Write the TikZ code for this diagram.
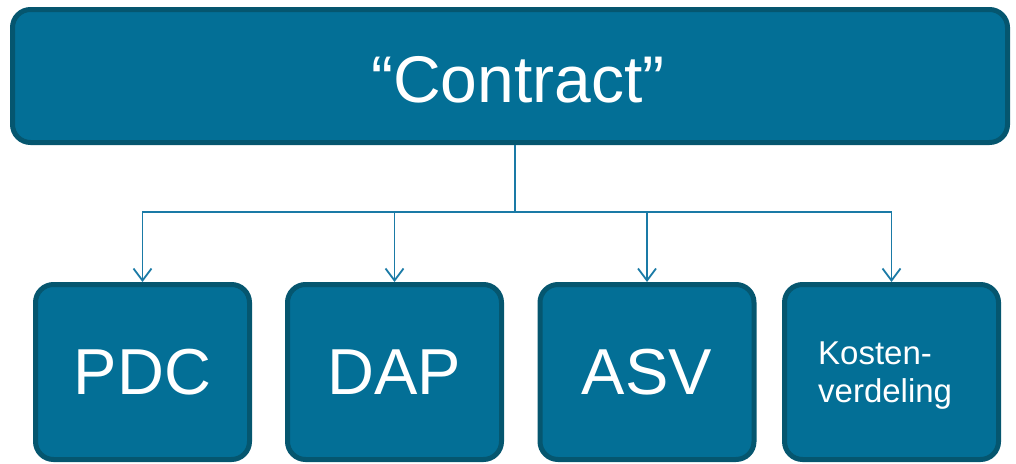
\documentclass[tikz,border=0pt]{standalone}
\usepackage{fontspec}
\setmainfont{Liberation Sans}
\usetikzlibrary{arrows.meta}
\definecolor{boxfill}{HTML}{036F96}
\definecolor{boxline}{HTML}{05566F}
\definecolor{conn}{HTML}{1A7AA6}
\begin{document}
\begin{tikzpicture}[x=1pt,y=-1pt,
  box/.style={draw=boxline,fill=boxfill,line width=5pt,rounded corners=18pt,
    text=white,inner sep=0pt},
  small/.style={box,minimum width=214pt,minimum height=175pt},
  conn/.style={draw=conn,line width=1.8pt},
  arr/.style={conn,-{Straight Barb[length=12pt,width=18pt,line width=1.8pt]}}]
\useasboundingbox (0,0) rectangle (1016,463);
\node[box,minimum width=995pt,minimum height=133pt] (top) at (510,76) {};
\node[text=white,font=\fontsize{66}{70}\selectfont,inner sep=0pt] (toptext) at (518,80) {“Contract”};
\node[small,font=\fontsize{65}{70}\selectfont] (pdc) at (142.5,372) {PDC};
\node[small,font=\fontsize{65}{70}\selectfont] (dap) at (394.5,372) {DAP};
\node[small,font=\fontsize{65}{70}\selectfont] (asv) at (647,372) {ASV};
\node[small] (kos) at (891.5,372) {};
\node[text=white,font=\fontsize{33}{38}\selectfont,align=left,anchor=west,inner sep=0pt] (kostext) at (818,376) {Kosten-\\verdeling};
\coordinate (j) at (515,212);
\draw[conn] (top.south -| j) -- (j);
\draw[arr] (j) -| (pdc.north);
\draw[arr] (j) -| (dap.north);
\draw[arr] (j) -| (asv.north);
\draw[arr] (j) -| (kos.north);
\end{tikzpicture}
\end{document}
